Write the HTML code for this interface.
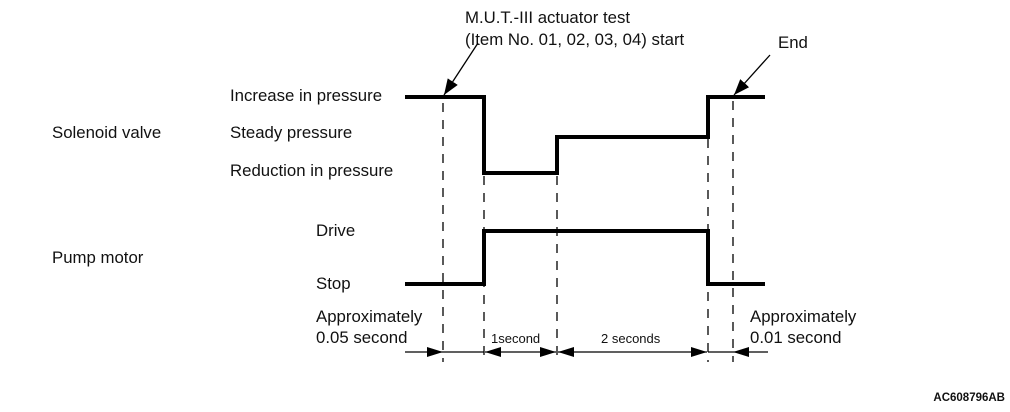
<!DOCTYPE html>
<html><head><style>
body{margin:0;background:#fff;}
svg text{font-family:"Liberation Sans",Arial,sans-serif;fill:#111;}
</style></head><body>
<svg width="1010" height="407" viewBox="0 0 1010 407" xmlns="http://www.w3.org/2000/svg">
<defs>
<marker id="a" markerWidth="10" markerHeight="8" refX="10" refY="4" orient="auto" markerUnits="userSpaceOnUse" viewBox="0 0 10 8"><path d="M0,0 L10,4 L0,8z" fill="#000"/></marker>
<marker id="a2" markerWidth="16" markerHeight="12" refX="16" refY="6" orient="auto" markerUnits="userSpaceOnUse" viewBox="0 0 16 12"><path d="M0,0 L16,6 L0,12z" fill="#000"/></marker>
<marker id="b" markerWidth="16" markerHeight="10" refX="16" refY="5" orient="auto-start-reverse" markerUnits="userSpaceOnUse" viewBox="0 0 16 10"><path d="M0,0 L16,5 L0,10z" fill="#000"/></marker>
</defs>
<g font-size="16.8">
<text x="465" y="23">M.U.T.-III actuator test</text>
<text x="465" y="45">(Item No. 01, 02, 03, 04) start</text>
<text x="778" y="48">End</text>
<text x="230" y="101">Increase in pressure</text>
<text x="52" y="138">Solenoid valve</text>
<text x="230" y="138">Steady pressure</text>
<text x="230" y="176">Reduction in pressure</text>
<text x="316" y="236">Drive</text>
<text x="52" y="263">Pump motor</text>
<text x="316" y="289">Stop</text>
<text x="316" y="322">Approximately</text>
<text x="316" y="343">0.05 second</text>
<text x="750" y="322">Approximately</text>
<text x="750" y="343">0.01 second</text>
</g>
<text x="491" y="343" font-size="13">1second</text>
<text x="601" y="343" font-size="13">2 seconds</text>
<text x="1005" y="401" font-size="11.5" font-weight="bold" text-anchor="end">AC608796AB</text>
<g stroke="#000" stroke-width="1.3" stroke-dasharray="9,8" fill="none">
<line x1="443" y1="103" x2="443" y2="362"/>
<line x1="484" y1="176" x2="484" y2="362"/>
<line x1="557" y1="176" x2="557" y2="362"/>
<line x1="708" y1="139" x2="708" y2="362"/>
<line x1="733" y1="101" x2="733" y2="362"/>
</g>
<g stroke="#000" stroke-width="4" fill="none" stroke-linejoin="miter">
<polyline points="405,97 484,97 484,173 557,173 557,137 708,137 708,97 765,97"/>
<polyline points="405,284 484,284 484,231 708,231 708,284 765,284"/>
</g>
<g stroke="#000" stroke-width="1.3" fill="none">
<line x1="478" y1="43" x2="444" y2="95" marker-end="url(#a2)"/>
<line x1="770" y1="55" x2="734" y2="95" marker-end="url(#a2)"/>
<line x1="405" y1="352" x2="443" y2="352" marker-end="url(#b)"/>
<line x1="443" y1="352" x2="484" y2="352"/>
<line x1="485" y1="352" x2="556" y2="352" marker-start="url(#b)" marker-end="url(#b)"/>
<line x1="558" y1="352" x2="707" y2="352" marker-start="url(#b)" marker-end="url(#b)"/>
<line x1="708" y1="352" x2="733" y2="352"/>
<line x1="768" y1="352" x2="733" y2="352" marker-end="url(#b)"/>
</g>
</svg>
</body></html>
